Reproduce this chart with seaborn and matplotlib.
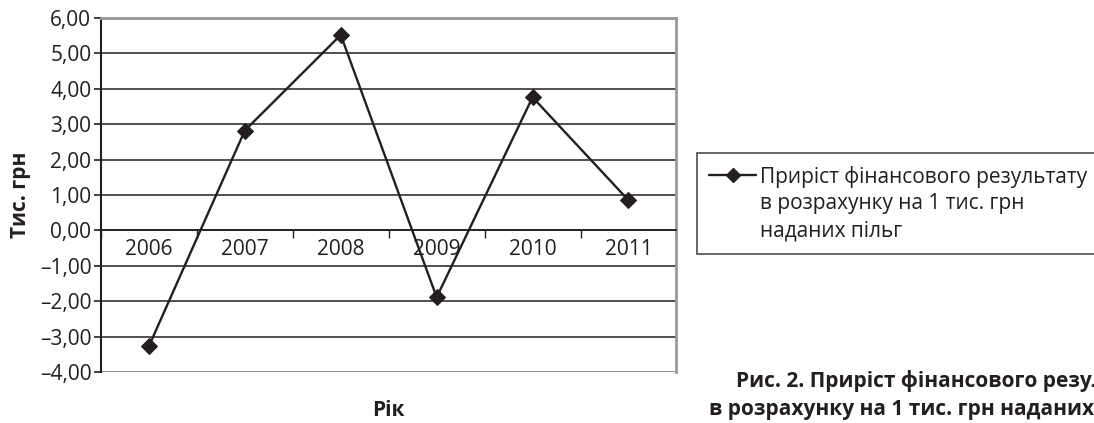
import seaborn as sns
import matplotlib.pyplot as plt
import pandas as pd
from matplotlib.lines import Line2D
from matplotlib.ticker import FixedLocator, NullFormatter

# Data
years = ['2006', '2007', '2008', '2009', '2010', '2011']
growth = [-3.27, 2.82, 5.52, -1.89, 3.76, 0.85]
y_ticks = [-4, -3, -2, -1, 0, 1, 2, 3, 4, 5, 6]
legend_lines = ['Приріст фінансового результату', 'в розрахунку на 1 тис. грн', 'наданих пільг']
caption_lines = ['Рис. 2. Приріст фінансового результату', 'в розрахунку на 1 тис. грн наданих пільг']

df = pd.DataFrame({'year': years, 'value': growth})

sns.set_style('white')
plt.rcParams['font.family'] = ['Open Sans', 'DejaVu Sans']
ink = '#231f20'

fig = plt.figure(figsize=(10.94, 4.23), dpi=100)
ax = fig.add_axes([0.0923, 0.1206, 0.526, 0.837])

sns.lineplot(data=df, x='year', y='value', ax=ax, color=ink, linewidth=1.7,
             marker='D', markersize=8, markeredgecolor=ink, legend=False)

ax.set_xlim(-0.5, 5.5)
ax.set_ylim(-4, 6)
ax.set_yticks(y_ticks)
ax.set_yticklabels([f'{v:.2f}'.replace('.', ',').replace('-', '–') for v in y_ticks],
                   fontsize=15, color=ink)

# category axis crosses at zero, ticks between categories
ax.spines['bottom'].set_position(('data', 0))
ax.spines['bottom'].set_color(ink)
ax.spines['bottom'].set_linewidth(1.2)
ax.xaxis.set_major_locator(FixedLocator([i - 0.5 for i in range(len(years) + 1)]))
ax.xaxis.set_major_formatter(NullFormatter())
ax.xaxis.set_minor_locator(FixedLocator(range(len(years))))
ax.set_xticklabels(years, minor=True, fontsize=15, color=ink)
ax.tick_params(axis='x', which='major', direction='out', length=6, width=1, color=ink, bottom=True)
ax.tick_params(axis='x', which='minor', length=0, pad=6, bottom=True)
ax.tick_params(axis='y', direction='out', length=5, width=1.2, color=ink, left=True, pad=2)

for v in y_ticks:
    ax.axhline(v, color=ink, linewidth=1.1, zorder=0)
ax.axhline(-4, color='#999999', linewidth=2, zorder=1)
ax.axhline(6, color='#999999', linewidth=2, zorder=1)

ax.spines['left'].set_color(ink)
ax.spines['left'].set_linewidth(1.5)
for side in ['right', 'top']:
    ax.spines[side].set_color('#999999')
    ax.spines[side].set_linewidth(2)

ax.set_xlabel('Рік', fontsize=15, fontweight='bold', color=ink, va='center')
ax.xaxis.set_label_coords(0.5, -0.11)
ax.set_ylabel('Тис. грн', fontsize=15, fontweight='bold', color=ink, va='center')
ax.yaxis.set_label_coords(-0.14, 0.5)

handles = [Line2D([], [], color=ink, linewidth=1.7, marker='D', markersize=7)]
handles += [Line2D([], [], linestyle='none') for _ in legend_lines[1:]]
leg = ax.legend(handles, legend_lines, loc='upper left', bbox_to_anchor=(0.637, 0.638),
                bbox_transform=fig.transFigure, fontsize=15, frameon=True, fancybox=False,
                handlelength=2.25, handletextpad=0.2, borderpad=0.6, labelspacing=0.28,
                borderaxespad=0)
leg.get_frame().set_edgecolor(ink)
leg.get_frame().set_linewidth(1.2)
for t in leg.get_texts():
    t.set_color(ink)

fig.text(736 / 1094, 1 - 381 / 423, caption_lines[0], fontsize=15, fontweight='bold',
         color=ink, ha='left', va='center')
fig.text(709 / 1094, 1 - 409 / 423, caption_lines[1], fontsize=15, fontweight='bold',
         color=ink, ha='left', va='center')

fig.savefig('out.png', dpi=100)
